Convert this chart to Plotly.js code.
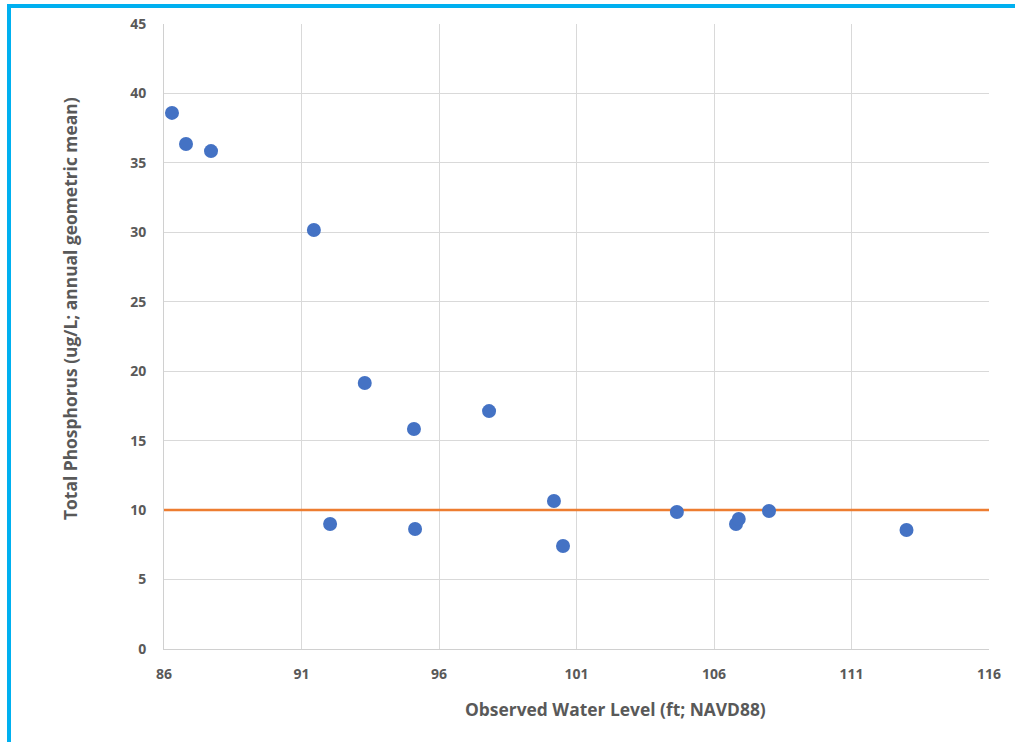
<!DOCTYPE html>
<html>
<head>
<meta charset="utf-8">
<script src="https://cdn.plot.ly/plotly-3.0.1.min.js"></script>
<style>
html,body{margin:0;padding:0;background:#fff;}
#wrap{position:relative;width:1015px;height:742px;overflow:hidden;}
#frame{position:absolute;left:7px;top:4px;width:1100px;height:800px;border-left:4px solid #00B0F0;border-top:4px solid #00B0F0;pointer-events:none;z-index:5;}
#chart{position:absolute;left:0;top:0;width:1015px;height:742px;}
</style>
</head>
<body>
<div id="wrap"><div id="chart"></div><div id="frame"></div></div>
<script>
const waterLevel = [86.29, 86.8, 87.71, 91.45, 92.04, 93.3, 95.09, 95.13, 97.82, 100.18, 100.51, 104.65, 106.8, 106.9, 108.0, 113.0];
const phosphorus = [38.6, 36.36, 35.85, 30.17, 9.0, 19.15, 15.84, 8.64, 17.13, 10.66, 7.42, 9.86, 9.0, 9.36, 9.94, 8.57];
const targetX = [86, 116];
const targetY = [10, 10];
const xTicks = [86, 91, 96, 101, 106, 111, 116];
const yTicks = [0, 5, 10, 15, 20, 25, 30, 35, 40, 45];
const xTitle = 'Observed Water Level (ft; NAVD88)';
const yTitle = 'Total Phosphorus (ug/L; annual geometric mean)';

const fontFam = '"Open Sans", Lato, sans-serif';
const grey = '#595959';

const traces = [
  {x: targetX, y: targetY, mode: 'lines', type: 'scatter',
   line: {color: '#ED7D31', width: 2.5}, hoverinfo: 'skip', showlegend: false},
  {x: waterLevel, y: phosphorus, mode: 'markers', type: 'scatter',
   marker: {color: '#4472C4', size: 14}, showlegend: false}
];

const layout = {
  width: 1015, height: 742,
  margin: {l: 164, r: 26, t: 24, b: 93},
  paper_bgcolor: '#fff', plot_bgcolor: '#fff',
  font: {family: fontFam, color: grey},
  xaxis: {
    range: [86, 116], tickvals: xTicks, ticktext: xTicks.map(String),
    showgrid: true, gridcolor: '#d9d9d9', gridwidth: 1,
    zeroline: false, showline: true, linecolor: '#d0d0d0', linewidth: 1,
    ticks: '', ticklabelstandoff: 12,
    tickfont: {family: fontFam, size: 14, color: grey, weight: 'bold'}
  },
  yaxis: {
    range: [0, 45], tickvals: yTicks, ticktext: yTicks.map(String),
    showgrid: true, gridcolor: '#d9d9d9', gridwidth: 1,
    zeroline: false, showline: true, linecolor: '#d0d0d0', linewidth: 1,
    ticks: '', ticklabelstandoff: 14,
    tickfont: {family: fontFam, size: 14, color: grey, weight: 'bold'}
  },
  annotations: [
    {text: '<b>' + xTitle + '</b>', xref: 'paper', yref: 'paper',
     x: (615 - 164) / 825, y: -(709 - 649) / 625, xanchor: 'center', yanchor: 'middle',
     showarrow: false, font: {family: fontFam, size: 17.4, color: grey}},
    {text: '<b>' + yTitle + '</b>', xref: 'paper', yref: 'paper', textangle: -90,
     x: -(164 - 70) / 825, y: (649 - 309) / 625, xanchor: 'center', yanchor: 'middle',
     showarrow: false, font: {family: fontFam, size: 17.4, color: grey}}
  ]
};

Plotly.newPlot('chart', traces, layout, {displayModeBar: false, staticPlot: true});
</script>
</body>
</html>
